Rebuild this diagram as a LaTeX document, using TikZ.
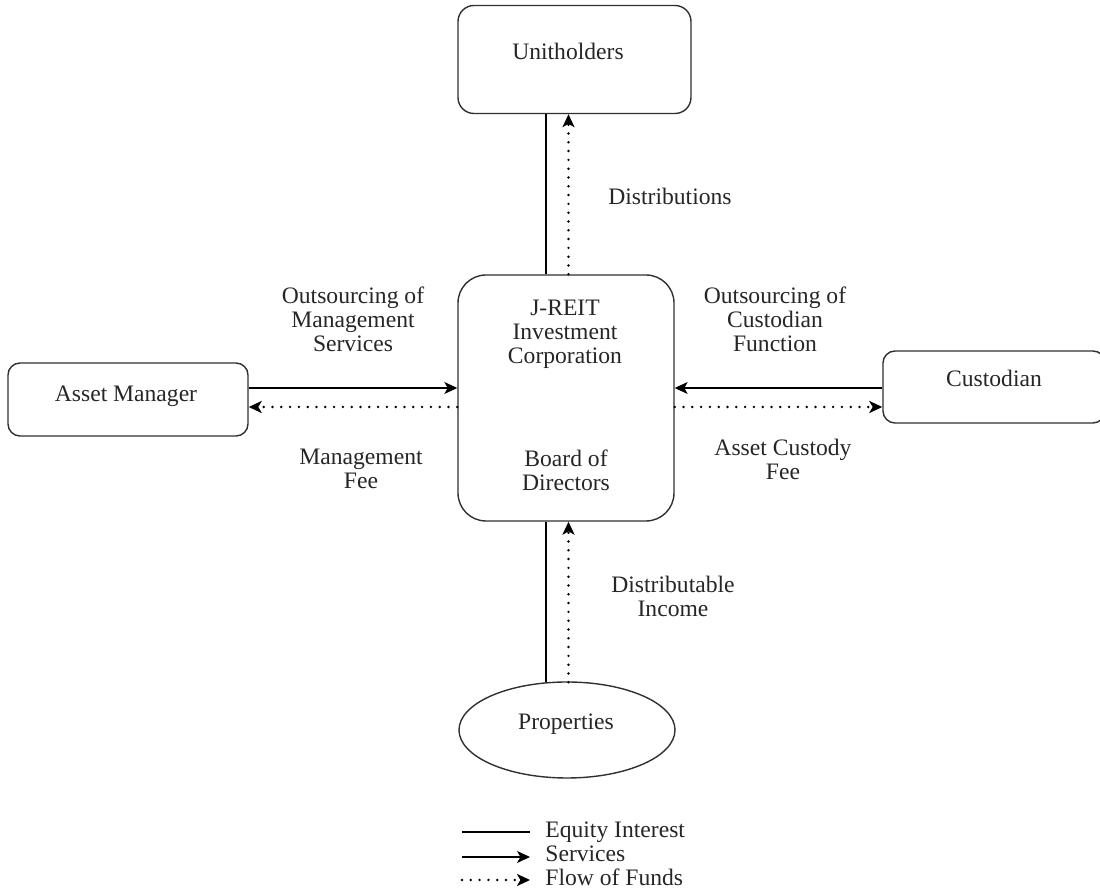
\documentclass[tikz,border=0pt]{standalone}
\usepackage{fontspec}
\setmainfont{Liberation Serif}
\usetikzlibrary{arrows.meta,shapes.geometric,calc}
\definecolor{txt}{HTML}{262626}
\definecolor{edgec}{HTML}{303030}
\begin{document}
\begin{tikzpicture}[x=0.5pt,y=-0.5pt,
  font=\fontsize{11.8}{12}\selectfont,
  box/.style={draw=edgec, line width=0.7pt, inner sep=0pt},
  lbl/.style={text=txt, inner sep=0pt},
  mlbl/.style={text=txt, inner sep=0pt, align=center},
  equity/.style={draw=black, line width=0.55pt},
  tipstyle/.style={-{Stealth[length=6.5pt,width=6pt,inset=1.7pt]}},
  service/.style={draw=black, line width=0.55pt, tipstyle},
  fund/.style={draw=black, line width=1.35pt, line cap=round, dash pattern=on 0pt off 4.4pt, tipstyle}
]
\useasboundingbox (0,0) rectangle (1100,892);

% boxes
\node[box, minimum width=116.5pt, minimum height=54pt, rounded corners=8pt] (unit) at (574.5,59.5) {};
\node[box, minimum width=108pt, minimum height=123pt, rounded corners=14pt] (central) at (566,398) {};
\node[box, minimum width=120pt, minimum height=36.5pt, rounded corners=6pt] (am) at (128,399.5) {};
\node[box, minimum width=111pt, minimum height=36pt, rounded corners=6pt] (cust) at (994,387) {};
\node[box, ellipse, minimum width=108pt, minimum height=48pt] (prop) at (567,730) {};

% box texts
\node[lbl, anchor=base] (unitt) at (568,60) {Unitholders};
\node[lbl, anchor=base] (amt) at (126,402) {Asset Manager};
\node[lbl, anchor=base] (custt) at (994,387) {Custodian};
\node[lbl, anchor=base] (propt) at (566,730) {Properties};
\node[mlbl] (jreit) at (565,334) {J-REIT\\Investment\\Corporation};
\node[mlbl] (board) at (566,470) {Board of\\Directors};

% connector labels
\node[lbl, anchor=base] (distl) at (670,205) {Distributions};
\node[mlbl] (oml) at (353,319.5) {Outsourcing of\\Management\\Services};
\node[mlbl] (ocl) at (775,319.5) {Outsourcing of\\Custodian\\Function};
\node[mlbl] (mfl) at (361,469) {Management\\Fee};
\node[mlbl] (acl) at (783,459) {Asset Custody\\Fee};
\node[mlbl] (dil) at (673,596) {Distributable\\Income};

% guide coordinates
\coordinate (xs) at (546,0);
\coordinate (xd) at (568.5,0);
\coordinate (ys) at (0,388);
\coordinate (yd) at (0,407);

% vertical connectors
\draw[equity] (unit.south -| xs) -- (central.north -| xs);
\draw[fund] (central.north -| xd) -- (unit.south -| xd);
\draw[equity] (central.south -| xs) -- ($(prop.north -| xs)+(0,1)$);
\draw[fund] ($(prop.north -| xd)+(0,1)$) -- (central.south -| xd);

% horizontal connectors
\draw[service] (am.east |- ys) -- (central.west |- ys);
\draw[fund] (central.west |- yd) -- (am.east |- yd);
\draw[service] (cust.west |- ys) -- (central.east |- ys);
\draw[fund] (central.east |- yd) -- (cust.west |- yd);

% legend
\coordinate (l1a) at (462,832); \coordinate (l1b) at (530,832);
\coordinate (l2a) at (462,857); \coordinate (l2b) at (530,857);
\coordinate (l3a) at (462,880); \coordinate (l3b) at (530,880);
\draw[equity] (l1a) -- (l1b);
\draw[service] (l2a) -- (l2b);
\draw[fund] (l3a) -- (l3b);
\node[lbl, anchor=base west] (leg1) at (545,838) {Equity Interest};
\node[lbl, anchor=base west] (leg2) at (545,862) {Services};
\node[lbl, anchor=base west] (leg3) at (545,886) {Flow of Funds};
\end{tikzpicture}
\end{document}
